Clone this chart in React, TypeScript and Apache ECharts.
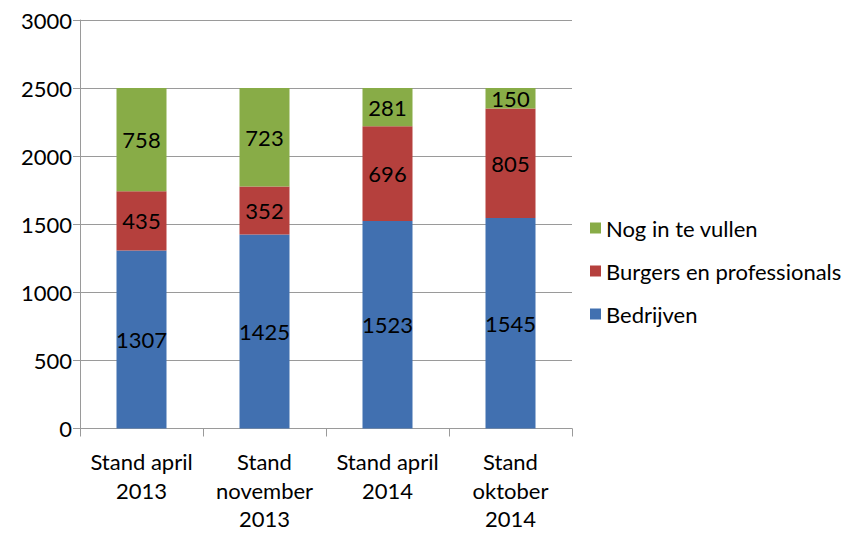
import React, { useEffect, useRef } from "react";
import * as echarts from "echarts";

const categories = ["Stand april\n2013", "Stand\nnovember\n2013", "Stand april\n2014", "Stand\noktober\n2014"];
const bedrijven = [1307, 1425, 1523, 1545];
const burgers = [435, 352, 696, 805];
const nogInTeVullen = [758, 723, 281, 150];
const yTicks = { min: 0, max: 3000, interval: 500 };

const FONT = "Lato";
const FS = 22;
const AXIS = "#9A9A9A";

export default function App() {
  const ref = useRef<HTMLDivElement>(null);
  useEffect(() => {
    if (!ref.current) return;
    const chart = echarts.init(ref.current, undefined, { renderer: "svg" });
    const label = {
      show: true,
      position: "inside" as const,
      color: "#000",
      fontFamily: FONT,
      fontSize: FS,
    };
    chart.setOption({
      animation: false,
      grid: { left: 80, right: 283, top: 20, bottom: 100, containLabel: false },
      legend: {
        orient: "vertical",
        left: 585,
        top: 212,
        itemWidth: 11,
        itemHeight: 11,
        itemGap: 21,
        icon: "rect",
        data: ["Nog in te vullen", "Burgers en professionals", "Bedrijven"],
        textStyle: { fontFamily: FONT, fontSize: FS, color: "#000" },
      },
      xAxis: {
        type: "category",
        data: categories,
        axisLine: { lineStyle: { color: AXIS, width: 1 } },
        axisTick: { show: true, length: 8, alignWithLabel: false, lineStyle: { color: AXIS } },
        axisLabel: { fontFamily: FONT, fontSize: FS, color: "#000", lineHeight: 28.5, margin: 19, interval: 0 },
      },
      yAxis: {
        type: "value",
        min: yTicks.min,
        max: yTicks.max,
        interval: yTicks.interval,
        axisLine: { show: true, lineStyle: { color: AXIS, width: 1 } },
        axisTick: { show: true, inside: false, length: 7, lineStyle: { color: AXIS } },
        splitLine: { show: true, lineStyle: { color: AXIS, width: 1 } },
        axisLabel: { fontFamily: FONT, fontSize: FS, color: "#000", margin: 8, formatter: (v: number) => String(v) },
      },
      series: [
        { name: "Bedrijven", type: "bar", stack: "a", barWidth: 50, data: bedrijven, itemStyle: { color: "#4170B0" }, label },
        { name: "Burgers en professionals", type: "bar", stack: "a", barWidth: 50, data: burgers, itemStyle: { color: "#B5403D" }, label },
        { name: "Nog in te vullen", type: "bar", stack: "a", barWidth: 50, data: nogInTeVullen, itemStyle: { color: "#88AC47" }, label },
      ],
    });
    return () => chart.dispose();
  }, []);
  return <div ref={ref} style={{ width: 855, height: 533, position: "absolute", left: 0, top: 0 }} />;
}
